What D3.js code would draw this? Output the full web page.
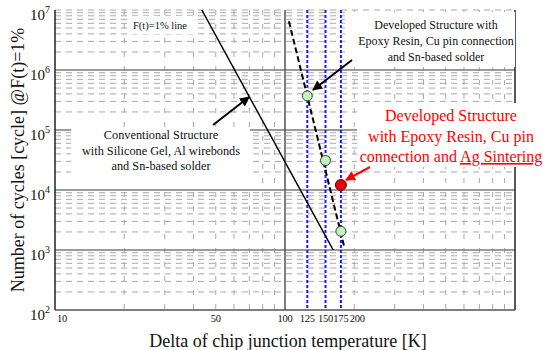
<!DOCTYPE html>
<html>
<head>
<meta charset="utf-8">
<script src="https://cdn.jsdelivr.net/npm/d3@7"></script>
<style>
  body { margin: 0; background: #fff; }
</style>
</head>
<body>
<div id="chart"></div>
<script>

// values
var yDecades = [100, 1000, 10000, 100000, 1000000, 10000000];
var yExponents = ["2", "3", "4", "5", "6", "7"];
var xTickValues = [10, 50, 100, 125, 150, 175, 200];
var xTickLabels = ["10", "50", "100", "125", "150", "175", "200"];

var conventionalDT = [43.5, 162];
var conventionalN = [10000000, 1000];

var developedDT = [104, 180.5];
var developedN = [6500000, 1170];

var testDT = [125, 150, 175];
var testN = [370000, 31000, 2050];

var agDT = [175];
var agN = [12100];

var markerTemps = [125, 150, 175];

var width = 543, height = 350;
var margin = {top: 10, right: 28, bottom: 40, left: 55};

var svg = d3.select("#chart").append("svg")
  .attr("width", width)
  .attr("height", height)
  .attr("font-family", "'Liberation Serif', 'Times New Roman', serif");

var x = d3.scaleLog().domain([10, 1000]).range([margin.left, width - margin.right]);
var y = d3.scaleLog().domain([100, 10000000]).range([height - margin.bottom, margin.top]);

var x0 = x.range()[0], x1 = x.range()[1];
var y0 = y.range()[0], y1 = y.range()[1];

// grid - minor horizontal
var hMinor = [];
for (var e = 2; e < 7; e++) {
  for (var k = 2; k <= 9; k++) hMinor.push(k * Math.pow(10, e));
}
hMinor.push(10000000);

var grid = svg.append("g");

grid.selectAll(".hminor")
  .data(hMinor)
  .enter().append("line")
  .attr("x1", x0).attr("x2", x1)
  .attr("y1", d => y(d)).attr("y2", d => y(d))
  .attr("stroke", "#a8a8a8")
  .attr("stroke-width", 1)
  .attr("stroke-dasharray", "6,5");

// grid - minor vertical
var vMinor = [];
[10, 100].forEach(function(b) {
  for (var k = 2; k <= 9; k++) vMinor.push(k * b);
});

grid.selectAll(".vminor")
  .data(vMinor)
  .enter().append("line")
  .attr("x1", d => x(d)).attr("x2", d => x(d))
  .attr("y1", y1).attr("y2", y0)
  .attr("stroke", "#a8a8a8")
  .attr("stroke-width", 1)
  .attr("stroke-dasharray", "5,9");

// major horizontal lines
grid.selectAll(".hmajor")
  .data([1000, 10000, 100000, 1000000])
  .enter().append("line")
  .attr("x1", x0).attr("x2", x1)
  .attr("y1", d => y(d)).attr("y2", d => y(d))
  .attr("stroke", "#7a7a7a")
  .attr("stroke-width", 1.5);

grid.append("line")
  .attr("x1", x(100)).attr("x2", x(100))
  .attr("y1", y1).attr("y2", y0)
  .attr("stroke", "#555")
  .attr("stroke-width", 1.5);

// frame
svg.append("line").attr("x1", x0).attr("x2", x0).attr("y1", y1).attr("y2", y0)
  .attr("stroke", "#222").attr("stroke-width", 1.5);
svg.append("line").attr("x1", x1).attr("x2", x1).attr("y1", y1).attr("y2", y0)
  .attr("stroke", "#222").attr("stroke-width", 1.5);
svg.append("line").attr("x1", x0).attr("x2", x1).attr("y1", y0).attr("y2", y0)
  .attr("stroke", "#555").attr("stroke-width", 1.5);

// white boxes behind the annotations
var boxes = [
  [128, 16, 69, 18],
  [71, 128, 179, 60],
  [345, 12, 170, 55],
  [357, 103, 186, 64]
];
svg.selectAll(".box")
  .data(boxes)
  .enter().append("rect")
  .attr("x", d => d[0]).attr("y", d => d[1])
  .attr("width", d => d[2]).attr("height", d => d[3])
  .attr("fill", "#fff");

// blue dotted temperature lines
svg.selectAll(".tline")
  .data(markerTemps)
  .enter().append("line")
  .attr("x1", d => x(d)).attr("x2", d => x(d))
  .attr("y1", y1).attr("y2", y0)
  .attr("stroke", "#1a1aff")
  .attr("stroke-width", 2)
  .attr("stroke-dasharray", "3,2");

var line = d3.line()
  .x(d => x(d[0]))
  .y(d => y(d[1]));

svg.append("path")
  .datum(d3.zip(conventionalDT, conventionalN))
  .attr("d", line)
  .attr("fill", "none")
  .attr("stroke", "#000")
  .attr("stroke-width", 1.5);

svg.append("path")
  .datum(d3.zip(developedDT, developedN))
  .attr("d", line)
  .attr("fill", "none")
  .attr("stroke", "#000")
  .attr("stroke-width", 2)
  .attr("stroke-dasharray", "6,3");

svg.selectAll(".pt")
  .data(d3.zip(testDT, testN))
  .enter().append("circle")
  .attr("cx", d => x(d[0])).attr("cy", d => y(d[1]))
  .attr("r", 5)
  .attr("fill", "#c4f2c0")
  .attr("stroke", "#2e4a2e")
  .attr("stroke-width", 1);

svg.selectAll(".ag")
  .data(d3.zip(agDT, agN))
  .enter().append("circle")
  .attr("cx", d => x(d[0])).attr("cy", d => y(d[1]))
  .attr("r", 5.5)
  .attr("fill", "#ee0000")
  .attr("stroke", "#600")
  .attr("stroke-width", 1);

// arrows
var defs = svg.append("defs");
[["blk", "#000"], ["red", "#ff0000"]].forEach(function(m) {
  defs.append("marker")
    .attr("id", "arr-" + m[0])
    .attr("viewBox", "0 0 10 10")
    .attr("refX", 9).attr("refY", 5)
    .attr("markerWidth", 5).attr("markerHeight", 5)
    .attr("orient", "auto")
    .append("path")
    .attr("d", "M0,0 L10,5 L0,10 z")
    .attr("fill", m[1]);
});

var arrows = [
  [352, 60, 313, 90, "blk"],
  [213, 125, 249, 97, "blk"],
  [370, 167, 346, 180, "red"]
];
svg.selectAll(".arrow")
  .data(arrows)
  .enter().append("line")
  .attr("x1", d => d[0]).attr("y1", d => d[1])
  .attr("x2", d => d[2]).attr("y2", d => d[3])
  .attr("stroke", d => d[4] == "red" ? "#ff0000" : "#000")
  .attr("stroke-width", 2)
  .attr("marker-end", d => "url(#arr-" + d[4] + ")");

// y tick labels
var yl = svg.selectAll(".ylab")
  .data(yDecades)
  .enter().append("text")
  .attr("x", x0 - 5)
  .attr("y", d => y(d) + 10)
  .attr("text-anchor", "end")
  .attr("font-size", 15)
  .attr("fill", "#111");
yl.append("tspan").text("10");
yl.append("tspan")
  .attr("dy", -7)
  .attr("font-size", 10)
  .text((d, i) => yExponents[i]);

// x tick labels
svg.selectAll(".xlab")
  .data(xTickValues)
  .enter().append("text")
  .attr("x", (d, i) => i == 0 ? x(d) + 2 : (i == xTickValues.length - 1 ? x(d) + 3 : x(d)))
  .attr("y", y0 + 12)
  .attr("text-anchor", (d, i) => i == 0 ? "start" : "middle")
  .attr("font-size", 10.5)
  .attr("letter-spacing", -0.2)
  .attr("fill", "#111")
  .text((d, i) => xTickLabels[i]);

// axis titles
svg.append("text")
  .attr("transform", "translate(24," + ((y0 + y1) / 2) + ") rotate(-90)")
  .attr("text-anchor", "middle")
  .attr("font-size", 18)
  .attr("fill", "#111")
  .text("Number of cycles [cycle] @F(t)=1%");

svg.append("text")
  .attr("x", 288)
  .attr("y", 347)
  .attr("text-anchor", "middle")
  .attr("font-size", 18)
  .attr("fill", "#111")
  .text("Delta of chip junction temperature [K]");

// annotations
function block(lines, cx, cy, lh, size, color) {
  var t = svg.append("text")
    .attr("text-anchor", "middle")
    .attr("font-size", size)
    .attr("fill", color);
  lines.forEach(function(l, i) {
    t.append("tspan").attr("x", cx).attr("y", cy + i * lh).text(l);
  });
  return t;
}

block(["F(t)=1% line"], 160, 29, 0, 10.5, "#111");
block(["Developed Structure with", "Epoxy Resin, Cu pin connection", "and Sn-based solder"], 436, 29, 16, 12, "#111");
block(["Conventional Structure", "with Silicone Gel, Al wirebonds", "and Sn-based solder"], 161, 139, 15.5, 12.3, "#111");

block(["Developed Structure", "with Epoxy Resin, Cu pin"], 451, 121, 20.5, 16, "#ff0000");
var red3 = svg.append("text")
  .attr("x", 451).attr("y", 162)
  .attr("text-anchor", "middle")
  .attr("font-size", 16)
  .attr("fill", "#ff0000");
red3.append("tspan").text("connection and ");
red3.append("tspan").attr("text-decoration", "underline").text("Ag Sintering");

</script>
</body>
</html>
